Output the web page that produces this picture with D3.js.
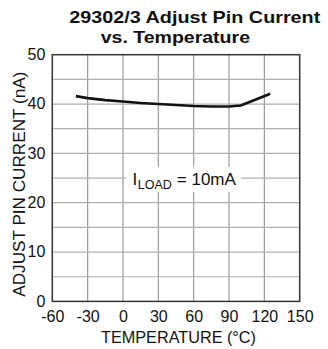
<!DOCTYPE html>
<html>
<head>
<meta charset="utf-8">
<script src="https://cdn.jsdelivr.net/npm/d3@7"></script>
<style>
  html, body { margin: 0; padding: 0; background: #fff; }
  svg { display: block; font-family: "Liberation Sans", Arial, Helvetica, sans-serif; }
</style>
</head>
<body>
<svg id="chart" width="328" height="349"></svg>
<script>
// ---- data ----
const temperature = [-40, -30, -15, 0, 15, 30, 45, 60, 75, 90, 100, 125];
const adjustCurrent = [41.6, 41.2, 40.8, 40.5, 40.2, 40.0, 39.8, 39.6, 39.5, 39.5, 39.7, 42.1];
const xTicks = [-60, -30, 0, 30, 60, 90, 120, 150];
const yTicks = [0, 10, 20, 30, 40, 50];
const yGrid = [5, 10, 15, 20, 25, 30, 35, 40, 45];
const titleLines = ["29302/3 Adjust Pin Current", "vs. Temperature"];
const xTitle = "TEMPERATURE (°C)";
const yTitle = "ADJUST PIN CURRENT (nA)";

const svg = d3.select("#chart");
const x = d3.scaleLinear().domain([-60, 150]).range([52.3, 299.7]);
const y = d3.scaleLinear().domain([0, 50]).range([301.4, 54.7]);

// grid
const g = svg.append("g");
g.selectAll("line.vg").data(xTicks.slice(1, -1)).join("line")
  .attr("x1", d => x(d)).attr("x2", d => x(d))
  .attr("y1", y(50)).attr("y2", y(0))
  .attr("stroke", "#9a9a9a").attr("stroke-width", 1.2);
g.selectAll("line.hg").data(yGrid).join("line")
  .attr("x1", x(-60)).attr("x2", x(150))
  .attr("y1", d => y(d)).attr("y2", d => y(d))
  .attr("stroke", "#b0b0b0").attr("stroke-width", 1.2);

// annotation background box (covers grid)
svg.append("rect").attr("x", 126).attr("y", 167).attr("width", 115).attr("height", 25).attr("fill", "#fff");

// frame
svg.append("rect")
  .attr("x", x(-60)).attr("y", y(50))
  .attr("width", x(150) - x(-60)).attr("height", y(0) - y(50))
  .attr("fill", "none").attr("stroke", "#333").attr("stroke-width", 1.5);

// curve
const line = d3.line().x((d, i) => x(temperature[i])).y(d => y(d));
svg.append("path").datum(adjustCurrent)
  .attr("d", line)
  .attr("fill", "none").attr("stroke", "#111").attr("stroke-width", 2.6)
  .attr("stroke-linejoin", "round").attr("stroke-linecap", "butt");

// axes labels
const fmt = d => String(d);
const xAxis = d3.axisBottom(x).tickValues(xTicks).tickSize(0).tickPadding(0).tickFormat(fmt);
const xa = svg.append("g").attr("transform", `translate(0,${y(0)})`).call(xAxis);
xa.select(".domain").remove();
xa.selectAll("text").attr("y", 21).attr("dy", 0).attr("fill", "#111")
  .style("font-size", "16px").style("font-family", "\"Liberation Sans\", Arial, sans-serif");

const yAxis = d3.axisLeft(y).tickValues(yTicks).tickSize(0).tickPadding(0).tickFormat(fmt);
const ya = svg.append("g").attr("transform", `translate(${x(-60)},0)`).call(yAxis);
ya.select(".domain").remove();
ya.selectAll("text").attr("x", -7).attr("dy", "0.3em").attr("fill", "#111")
  .style("font-size", "16px").style("font-family", "\"Liberation Sans\", Arial, sans-serif");

// titles
svg.append("text").attr("x", 69.3).attr("y", 22.7)
  .attr("textLength", 251).attr("lengthAdjust", "spacingAndGlyphs")
  .style("font-size", "17px").style("font-weight", "bold").attr("fill", "#111")
  .text(titleLines[0]);
svg.append("text").attr("x", 100.7).attr("y", 43.3)
  .attr("textLength", 149.3).attr("lengthAdjust", "spacingAndGlyphs")
  .style("font-size", "17px").style("font-weight", "bold").attr("fill", "#111")
  .text(titleLines[1]);

svg.append("text").attr("x", 101).attr("y", 342.7)
  .attr("textLength", 155).attr("lengthAdjust", "spacingAndGlyphs")
  .style("font-size", "16.5px").attr("fill", "#111")
  .text(xTitle);

svg.append("text")
  .attr("transform", "translate(25,296.7) rotate(-90)")
  .attr("textLength", 225).attr("lengthAdjust", "spacingAndGlyphs")
  .style("font-size", "16.5px").attr("fill", "#111")
  .text(yTitle);

// annotation
const ann = svg.append("text").attr("x", 132.5).attr("y", 185).attr("fill", "#111").style("font-size", "17px");
ann.append("tspan").text("I");
ann.append("tspan").attr("dy", 4.3).attr("dx", 0.5).style("font-size", "12.5px").text("LOAD");
ann.append("tspan").attr("dy", -4.3).attr("dx", 5).text("= 10mA");
</script>
</body>
</html>
